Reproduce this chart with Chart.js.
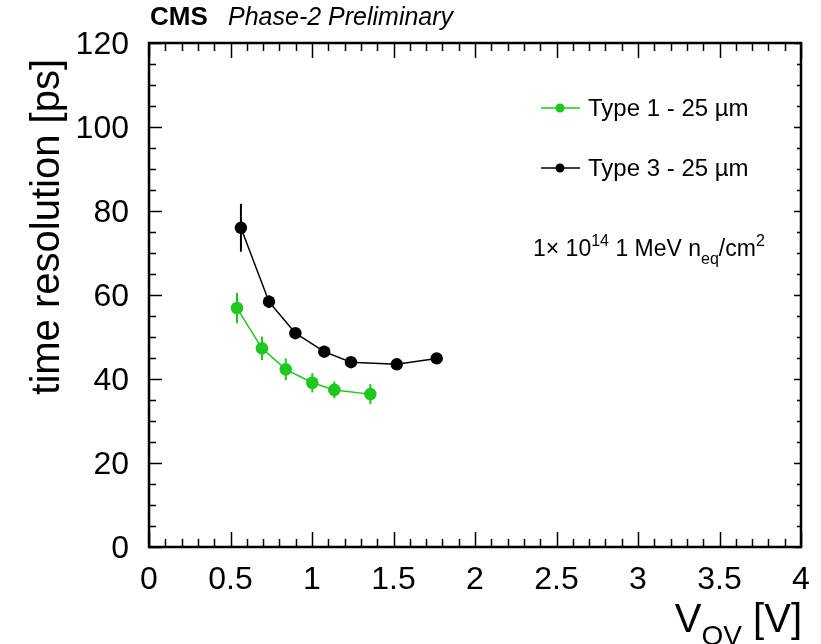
<!DOCTYPE html>
<html>
<head>
<meta charset="utf-8">
<script src="https://cdn.jsdelivr.net/npm/chart.js@4.4.0/dist/chart.umd.min.js"></script>
<style>
  html, body { margin: 0; padding: 0; background: #fff; }
</style>
</head>
<body>
<canvas id="resolution" width="821" height="644"></canvas>
<script>
// valeurs
const type1Vov = [0.54, 0.693, 0.839, 1.002, 1.137, 1.358];
const type1Res = [56.9, 47.3, 42.3, 39.1, 37.4, 36.4];
const type1Err = [3.6, 2.8, 2.6, 2.3, 2.0, 2.4];

const type3Vov = [0.564, 0.736, 0.898, 1.075, 1.239, 1.520, 1.765];
const type3Res = [76.0, 58.4, 50.9, 46.5, 44.0, 43.5, 44.9];
const type3Err = [5.7, 1.5, 1.2, 1.0, 1.0, 1.0, 1.0];

const xTicks = [0, 0.5, 1, 1.5, 2, 2.5, 3, 3.5, 4];
const yTicks = [0, 20, 40, 60, 80, 100, 120];

const seriesLabels = ['Type 1 - 25 \u00b5m', 'Type 3 - 25 \u00b5m'];
const green = '#1ec81e';
const FONT = "'Liberation Sans', Arial, Helvetica, sans-serif";

Chart.defaults.font.family = FONT;
Chart.defaults.color = '#000';

function points(xs, ys) {
  return xs.map((x, i) => ({ x: x, y: ys[i] }));
}

// barres d'erreur verticales
const errorBars = {
  id: 'errorBars',
  beforeDatasetsDraw(chart) {
    const ctx = chart.ctx;
    const ys = chart.scales.y;
    ctx.save();
    ctx.lineWidth = 2;
    chart.data.datasets.forEach((ds, i) => {
      const meta = chart.getDatasetMeta(i);
      ctx.strokeStyle = ds.borderColor;
      meta.data.forEach((pt, j) => {
        const v = ds.data[j].y, e = ds.errors[j];
        ctx.beginPath();
        ctx.moveTo(pt.x, ys.getPixelForValue(v + e));
        ctx.lineTo(pt.x, ys.getPixelForValue(v - e));
        ctx.stroke();
      });
    });
    ctx.restore();
  }
};

// cadre style ROOT, ticks vers l'intérieur, textes
const rootFrame = {
  id: 'rootFrame',
  afterDraw(chart) {
    const ctx = chart.ctx, a = chart.chartArea;
    const xs = chart.scales.x, ys = chart.scales.y;
    ctx.save();
    ctx.strokeStyle = '#000';
    ctx.lineWidth = 1.5;
    ctx.beginPath();
    for (let i = 0; i <= 40; i++) {
      const px = Math.round(xs.getPixelForValue(i / 10)) + 0.5;
      const len = i % 5 === 0 ? 15 : 8;
      ctx.moveTo(px, a.bottom); ctx.lineTo(px, a.bottom - len);
      ctx.moveTo(px, a.top); ctx.lineTo(px, a.top + len);
    }
    for (let v = 0; v <= 120; v += 5) {
      const py = Math.round(ys.getPixelForValue(v)) + 0.5;
      const major = v % 20 === 0;
      ctx.moveTo(a.left, py); ctx.lineTo(a.left + (major ? 13 : 7), py);
      ctx.moveTo(a.right, py); ctx.lineTo(a.right - (major ? 7 : 4), py);
    }
    ctx.stroke();
    ctx.lineWidth = 2.5;
    ctx.strokeRect(a.left, a.top, a.right - a.left, a.bottom - a.top);

    ctx.fillStyle = '#000';
    ctx.textBaseline = 'alphabetic';

    // en-tête CMS
    ctx.textAlign = 'left';
    ctx.font = 'bold 26px ' + FONT;
    ctx.fillText('CMS', a.left + 1, 25);
    ctx.font = 'italic 25px ' + FONT;
    ctx.fillText('Phase-2 Preliminary', a.left + 79, 25);

    // titre axe y
    ctx.save();
    ctx.translate(59, a.top + 16);
    ctx.rotate(-Math.PI / 2);
    ctx.textAlign = 'right';
    ctx.font = '40px ' + FONT;
    ctx.fillText('time resolution [ps]', 0, 0);
    ctx.restore();

    // titre axe x : V_OV [V]
    ctx.font = '40px ' + FONT;
    const wV = ctx.measureText('V').width;
    const wEnd = ctx.measureText(' [V]').width;
    ctx.font = '28px ' + FONT;
    const wSub = ctx.measureText('OV').width;
    let x0 = a.right + 1 - wV - wSub - wEnd;
    ctx.textAlign = 'left';
    ctx.font = '40px ' + FONT;
    ctx.fillText('V', x0, 632);
    ctx.font = '28px ' + FONT;
    ctx.fillText('OV', x0 + wV, 645);
    ctx.font = '40px ' + FONT;
    ctx.fillText(' [V]', x0 + wV + wSub, 632);

    // légende
    const legendRows = [
      { label: seriesLabels[0], color: green, y: a.top + 65 },
      { label: seriesLabels[1], color: '#000', y: a.top + 125 }
    ];
    legendRows.forEach(r => {
      ctx.strokeStyle = r.color;
      ctx.fillStyle = r.color;
      ctx.lineWidth = 1.5;
      ctx.beginPath();
      ctx.moveTo(541, r.y); ctx.lineTo(580, r.y);
      ctx.stroke();
      ctx.beginPath();
      ctx.arc(560, r.y, 4.5, 0, Math.PI * 2);
      ctx.fill();
      ctx.fillStyle = '#000';
      ctx.font = '24px ' + FONT;
      ctx.fillText(r.label, 588, r.y + 8);
    });

    // fluence
    let tx = 533;
    const base = 256;
    const seg = (t, size, dy) => {
      ctx.font = size + 'px ' + FONT;
      ctx.fillText(t, tx, base + dy);
      tx += ctx.measureText(t).width;
    };
    seg('1\u00d7 10', 23, 0);
    seg('14', 16, -10);
    seg(' 1 MeV n', 23, 0);
    seg('eq', 16, 8);
    seg('/cm', 23, 0);
    seg('2', 16, -10);

    ctx.restore();
  }
};

new Chart(document.getElementById('resolution').getContext('2d'), {
  type: 'line',
  data: {
    datasets: [{
      label: seriesLabels[0],
      data: points(type1Vov, type1Res),
      errors: type1Err,
      borderColor: green,
      backgroundColor: green,
      pointBackgroundColor: green,
      borderWidth: 1.5,
      pointRadius: 6.3,
      pointBorderWidth: 0,
      tension: 0
    }, {
      label: seriesLabels[1],
      data: points(type3Vov, type3Res),
      errors: type3Err,
      borderColor: '#000',
      backgroundColor: '#000',
      pointBackgroundColor: '#000',
      borderWidth: 1.5,
      pointRadius: 6.2,
      pointBorderWidth: 0,
      tension: 0
    }]
  },
  options: {
    responsive: false,
    animation: false,
    layout: { padding: { top: 43, right: 20, left: 0, bottom: 0 } },
    plugins: { legend: { display: false }, tooltip: { enabled: false } },
    scales: {
      x: {
        type: 'linear',
        min: xTicks[0],
        max: xTicks[xTicks.length - 1],
        grid: { display: false },
        border: { display: false },
        afterBuildTicks: s => { s.ticks = xTicks.map(v => ({ value: v })); },
        afterFit: s => { s.height = 97; },
        ticks: {
          autoSkip: false,
          maxRotation: 0,
          padding: 6,
          color: '#000',
          font: { size: 32 },
          callback: v => String(v)
        }
      },
      y: {
        type: 'linear',
        min: yTicks[0],
        max: yTicks[yTicks.length - 1],
        grid: { display: false },
        border: { display: false },
        afterBuildTicks: s => { s.ticks = yTicks.map(v => ({ value: v })); },
        afterFit: s => { s.width = 149; },
        ticks: {
          autoSkip: false,
          padding: 12,
          labelOffset: 2,
          color: '#000',
          font: { size: 32 },
          callback: v => String(v)
        }
      }
    }
  },
  plugins: [errorBars, rootFrame]
});
</script>
</body>
</html>
